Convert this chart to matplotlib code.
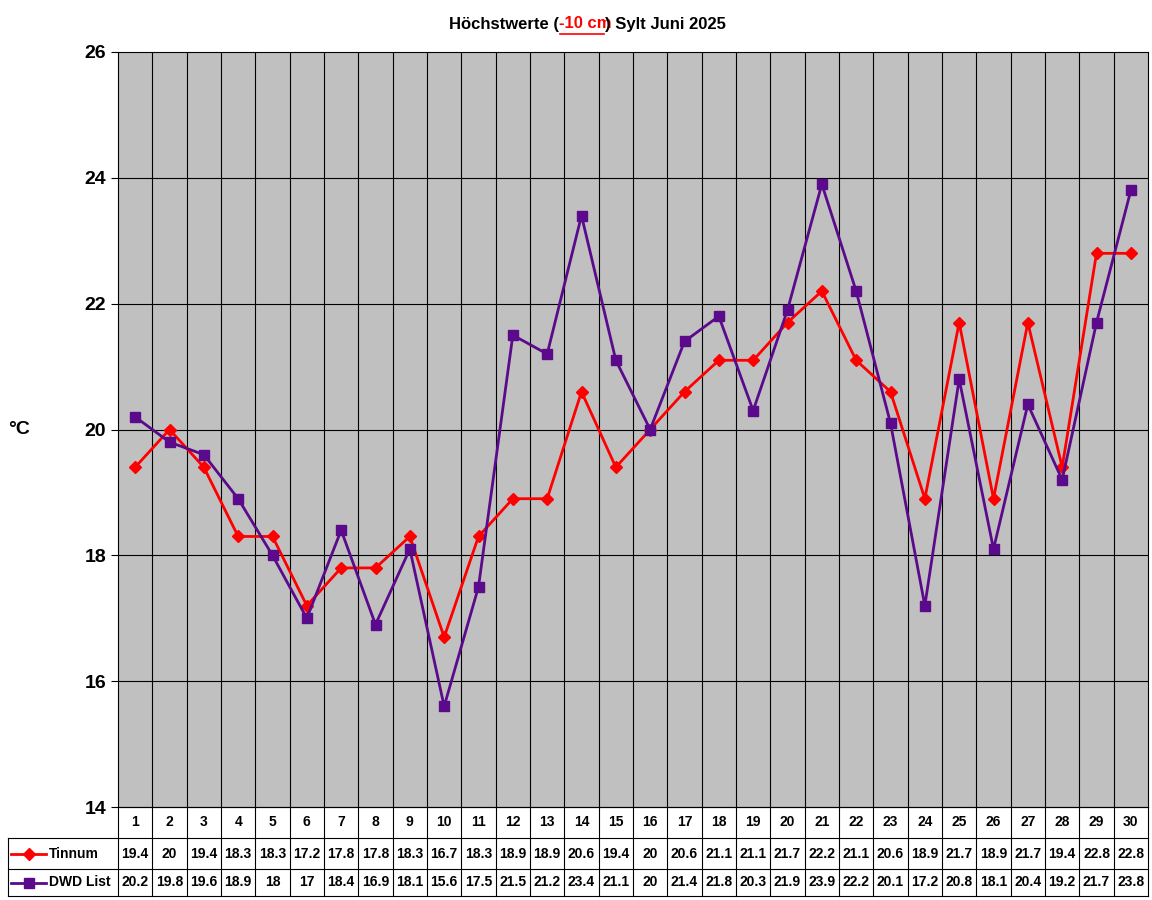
import matplotlib
matplotlib.use('Agg')
import matplotlib.pyplot as plt
from matplotlib.lines import Line2D
import numpy as np

plt.rcParams['font.family'] = ['Liberation Sans', 'DejaVu Sans']

days = list(range(1, 31))
tinnum = [19.4, 20, 19.4, 18.3, 18.3, 17.2, 17.8, 17.8, 18.3, 16.7, 18.3, 18.9, 18.9, 20.6, 19.4,
          20, 20.6, 21.1, 21.1, 21.7, 22.2, 21.1, 20.6, 18.9, 21.7, 18.9, 21.7, 19.4, 22.8, 22.8]
dwd = [20.2, 19.8, 19.6, 18.9, 18, 17, 18.4, 16.9, 18.1, 15.6, 17.5, 21.5, 21.2, 23.4, 21.1,
       20, 21.4, 21.8, 20.3, 21.9, 23.9, 22.2, 20.1, 17.2, 20.8, 18.1, 20.4, 19.2, 21.7, 23.8]
series = [('Tinnum', tinnum, 'red', 'D', 6), ('DWD List', dwd, '#5a0a8a', 's', 7)]

fig = plt.figure(figsize=(11.52, 9), dpi=100)
ax = fig.add_axes([118 / 1152, 93 / 900, 1030 / 1152, 755 / 900])
ax.set_facecolor('#c0c0c0')
ax.set_xlim(0.5, 30.5)
ax.set_ylim(14, 26)
ax.set_yticks(range(14, 27, 2))
for y in range(16, 26, 2):
    ax.axhline(y, color='black', lw=0.8)
for x in np.arange(1.5, 30.5, 1):
    ax.axvline(x, color='black', lw=0.8)
ax.set_xticks([])
ax.tick_params(axis='y', labelsize=14, length=5)
for lab in ax.get_yticklabels():
    lab.set_fontweight('bold')

for name, vals, col, mk, ms in series:
    ax.plot(days, vals, color=col, lw=2, marker=mk, markersize=ms, zorder=3)

ax.text(-0.107, 0.5, '°C', transform=ax.transAxes, fontsize=14, fontweight='bold', va='center')

# data table below the plot
px = 1 / 755
rows = [0, -31 * px, -62 * px, -89 * px]
tr = ax.get_xaxis_transform()
left = 0.5 - (110 / 1030) * 30
for yb in rows:
    ax.add_line(Line2D([0.5 if yb == 0 else left, 30.5], [yb, yb], transform=tr,
                       color='black', lw=0.8, clip_on=False))
for x in np.arange(0.5, 31, 1):
    ax.add_line(Line2D([x, x], [rows[0], rows[3]], transform=tr, color='black', lw=0.8, clip_on=False))
ax.add_line(Line2D([left, left], [rows[1], rows[3]], transform=tr, color='black', lw=0.8, clip_on=False))
for d in days:
    ax.text(d, (rows[0] + rows[1]) / 2, str(d), transform=tr, ha='center', va='center',
            fontsize=10, fontweight='bold')
for i, (name, vals, col, mk, ms) in enumerate(series):
    yc = (rows[i + 1] + rows[i + 2]) / 2
    for d, v in zip(days, vals):
        ax.text(d, yc, f'{v:g}', transform=tr, ha='center', va='center', fontsize=10, fontweight='bold')
    ax.plot([left + 0.1, left + 0.6, left + 1.1], [yc] * 3, transform=tr, color=col, lw=2,
            marker=mk, markersize=ms, markevery=[1], clip_on=False)
    ax.text(left + 1.2, yc, name, transform=tr, ha='left', va='center', fontsize=10, fontweight='bold')

# title with coloured part
ty = 1 - 24 / 900
fig.text(559 / 1152, ty, 'Höchstwerte (', ha='right', va='center', fontsize=12, fontweight='bold')
fig.text(559 / 1152, ty, '-10 cm', ha='left', va='center', fontsize=12, fontweight='bold', color='red')
fig.text(605 / 1152, ty, ') Sylt Juni 2025', ha='left', va='center', fontsize=12, fontweight='bold')
fig.add_artist(Line2D([560 / 1152, 604 / 1152], [ty - 10 / 900] * 2, color='red', lw=1.2))

fig.savefig('out.png', dpi=100)
